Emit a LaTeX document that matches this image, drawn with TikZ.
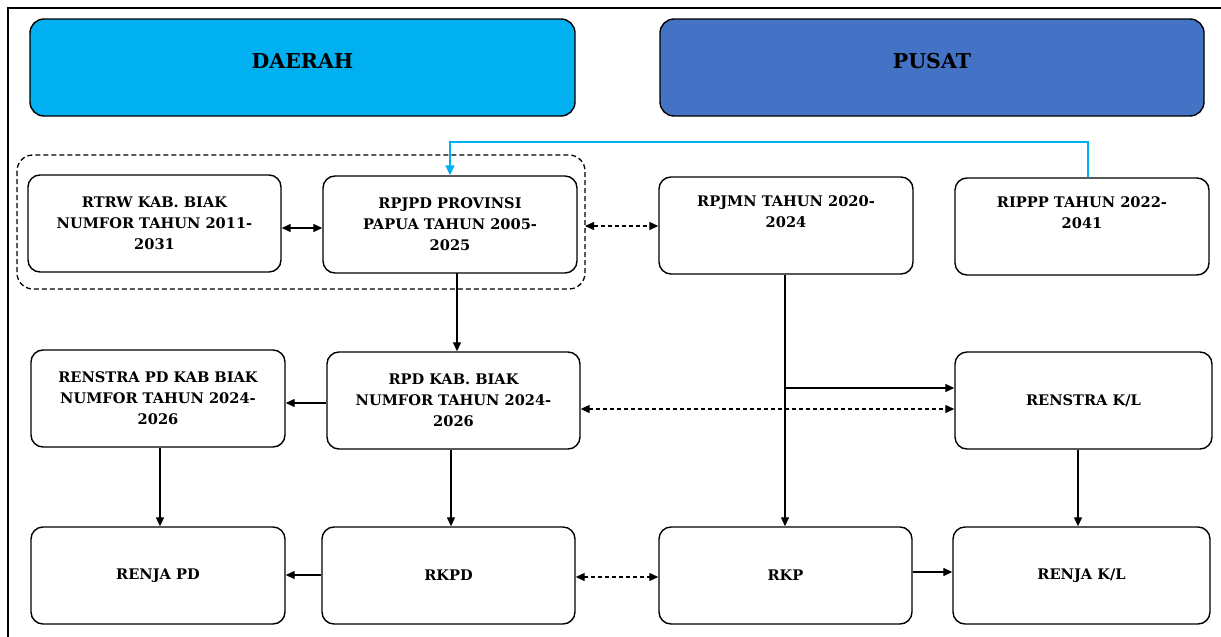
\documentclass[tikz,border=0pt]{standalone}
\usepackage{fontspec}
\setmainfont{DejaVu Serif}
\usetikzlibrary{arrows.meta}
\definecolor{daerahblue}{HTML}{00B0F0}
\definecolor{pusatblue}{HTML}{4472C4}
\tikzset{
  box/.style={draw=black, line width=1.4pt, rounded corners=12pt, fill=white,
    align=center, font=\bfseries\fontsize{14.6}{21}\selectfont, inner sep=4pt},
  header/.style={draw=black, line width=1.4pt, rounded corners=14pt},
  headtext/.style={font=\bfseries\fontsize{20.5}{24}\selectfont},
  arr/.style={line width=1.3pt, -{Triangle[length=9pt,width=8pt]}},
  darr/.style={line width=1.3pt, {Triangle[length=9pt,width=8pt]}-{Triangle[length=9pt,width=8pt]}},
  dasharr/.style={darr, dash pattern=on 4pt off 3pt},
  frameline/.style={line width=2pt},
}
\begin{document}
\begin{tikzpicture}[x=1pt,y=-1pt]
\useasboundingbox (0,0) rectangle (1221,637);
% outer frame (top and left visible)
\draw[frameline] (8,637) -- (8,8) -- (1221,8);
% headers
\node[header, fill=daerahblue, minimum width=545pt, minimum height=97pt] (daerah) at (302.5,67.5) {};
\node[headtext] (daerahtxt) at (302.5,61) {DAERAH};
\node[header, fill=pusatblue, minimum width=544pt, minimum height=97pt] (pusat) at (932,67.5) {};
\node[headtext] (pusattxt) at (932,61) {PUSAT};
% dashed group
\draw[line width=1.3pt, dash pattern=on 5pt off 3pt, rounded corners=16pt] (17,155) rectangle (585,289);
\coordinate (grpR) at (585,226);
% row 1
\node[box, minimum width=253pt, minimum height=97pt] (rtrw) at (154.5,223.5) {RTRW KAB. BIAK\\NUMFOR TAHUN 2011-\\2031};
\node[box, minimum width=254pt, minimum height=97pt] (rpjpd) at (450,224.5) {RPJPD PROVINSI\\PAPUA TAHUN 2005-\\2025};
\node[box, minimum width=254pt, minimum height=97pt] (rpjmn) at (786,225.5) {RPJMN TAHUN 2020-\\2024\\\strut};
\node[box, minimum width=254pt, minimum height=97pt] (rippp) at (1082,226.5) {RIPPP TAHUN 2022-\\2041\\\strut};
% row 2
\node[box, minimum width=254pt, minimum height=97pt] (renstrapd) at (158,398.5) {RENSTRA PD KAB BIAK\\NUMFOR TAHUN 2024-\\2026};
\node[box, minimum width=253pt, minimum height=97pt] (rpd) at (453.5,400.5) {RPD KAB. BIAK\\NUMFOR TAHUN 2024-\\2026};
\node[box, minimum width=257pt, minimum height=97pt] (renstrakl) at (1083.5,400.5) {RENSTRA K/L};
% row 3
\node[box, minimum width=254pt, minimum height=97pt] (renjapd) at (158,575.5) {RENJA PD};
\node[box, minimum width=253pt, minimum height=97pt] (rkpd) at (448.5,575.5) {RKPD};
\node[box, minimum width=253pt, minimum height=97pt] (rkp) at (785.5,575.5) {RKP};
\node[box, minimum width=257pt, minimum height=97pt] (renjakl) at (1081.5,575.5) {RENJA K/L};
% connectors
\draw[darr] (rtrw.east |- 0,228) -- (rpjpd.west |- 0,228);
\draw[dasharr] (grpR) -- (rpjmn.west |- grpR);
\draw[arr] (457,273) -- (rpd.north -| 457,0);
\draw[arr] (rpd.west |- 0,403) -- (renstrapd.east |- 0,403);
\draw[dasharr] (rpd.east |- 0,409) -- (renstrakl.west |- 0,409);
\coordinate (branch) at (785,388);
\draw[line width=1.3pt] (rpjmn.south -| 785,0) -- (branch);
\draw[arr] (branch) -- (rkp.north -| 785,0);
\draw[arr] (branch) -- (renstrakl.west |- branch);
\draw[arr] (renstrapd.south -| 160,0) -- (renjapd.north -| 160,0);
\draw[arr] (rpd.south -| 451,0) -- (rkpd.north -| 451,0);
\draw[arr] (rkpd.west |- 0,575) -- (renjapd.east |- 0,575);
\draw[dasharr] (rkpd.east |- 0,577) -- (rkp.west |- 0,577);
\draw[arr] (rkp.east |- 0,572) -- (renjakl.west |- 0,572);
\draw[arr] (renstrakl.south -| 1078,0) -- (renjakl.north -| 1078,0);
\draw[line width=2pt, daerahblue, -{Triangle[length=10pt,width=9pt]}] (rippp.north -| 1088,0) -- (1088,142) -- (450,142) -- (rpjpd.north);
\end{tikzpicture}
\end{document}
